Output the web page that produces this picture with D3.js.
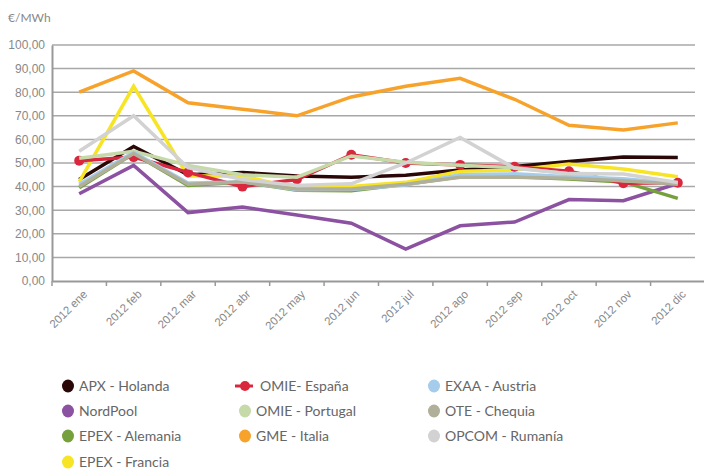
<!DOCTYPE html>
<html>
<head>
<meta charset="utf-8">
<script src="https://cdn.jsdelivr.net/npm/d3@7"></script>
<style>
  body { margin: 0; background: #fff; }
  svg { display: block; font-family: Lato, "Open Sans", sans-serif; }
</style>
</head>
<body>
<svg id="chart"></svg>
<script>
const months = ["2012 ene", "2012 feb", "2012 mar", "2012 abr", "2012 may", "2012 jun",
                "2012 jul", "2012 ago", "2012 sep", "2012 oct", "2012 nov", "2012 dic"];
const yTicks = [0, 10, 20, 30, 40, 50, 60, 70, 80, 90, 100];

const apxHolanda     = [43, 57, 45, 46, 44.5, 44, 44.8, 47, 48.5, 50.6, 52.5, 52.3];
const nordPool       = [37, 49, 29, 31.3, 28, 24.5, 13.5, 23.4, 25, 34.5, 34, 41.3];
const epexAlemania   = [39.5, 54, 40.5, 42, 38.5, 38.2, 41, 44.2, 44.2, 43.2, 42, 35];
const epexFrancia    = [42, 82.5, 44.5, 44.5, 39.2, 40, 41.8, 46.5, 47, 49.6, 47.5, 44.2];
const omieEspana     = [51, 52.5, 46, 40, 43, 53.5, 50, 49.2, 48.4, 46.5, 41.4, 41.6];
const omiePortugal   = [52, 55, 49, 45, 44, 53, 50.3, 49, 48, 45.5, 42.5, 41.5];
const gmeItalia      = [80, 89, 75.5, 72.8, 70, 78, 82.5, 85.9, 77, 66, 64, 67];
const exaaAustria    = [41, 54.5, 41.5, 42, 38.7, 38.8, 40.7, 45, 45.4, 44.2, 43.3, 41.3];
const oteChequia     = [40, 54, 41, 42, 39, 39, 41, 44, 44, 43.5, 42.5, 41];
const opcomRumania   = [55, 70, 48, 43, 40.5, 41.2, 50, 60.8, 47.8, 45.5, 45.3, 41.7];

const series = [
  { name: "APX - Holanda",    values: apxHolanda,   color: "#2a0808" },
  { name: "NordPool",         values: nordPool,     color: "#8c52a1" },
  { name: "EPEX - Alemania",  values: epexAlemania, color: "#76a03c" },
  { name: "EPEX - Francia",   values: epexFrancia,  color: "#f7e425" },
  { name: "OMIE- España",     values: omieEspana,   color: "#d9283e", marker: true },
  { name: "OMIE - Portugal",  values: omiePortugal, color: "#c6d9a9" },
  { name: "GME  - Italia",    values: gmeItalia,    color: "#f7a22b" },
  { name: "EXAA - Austria",   values: exaaAustria,  color: "#a6cceb" },
  { name: "OTE - Chequia",    values: oteChequia,   color: "#b0b09a" },
  { name: "OPCOM - Rumanía",  values: opcomRumania, color: "#d2d2d2" }
];

const width = 704, height = 473;
const svg = d3.select("#chart").attr("width", width).attr("height", height);

const x = d3.scaleBand().domain(months).range([52, 705]);
const y = d3.scaleLinear().domain([0, 100]).range([281, 45]);

// gridlines
svg.append("g")
  .selectAll("line")
  .data(yTicks.slice(1))
  .enter().append("line")
  .attr("x1", 52).attr("x2", 695)
  .attr("y1", d => y(d)).attr("y2", d => y(d))
  .attr("stroke", "#a8a8a8").attr("stroke-width", 1.5);

// y axis
const yAxis = svg.append("g")
  .attr("transform", "translate(52,0)")
  .call(d3.axisLeft(y).tickValues(yTicks).tickSize(0).tickPadding(7)
    .tickFormat(d => d3.format(".2f")(d).replace(".", ",")));
yAxis.select(".domain").attr("stroke", "#999").attr("stroke-width", 2);
yAxis.selectAll("text").attr("fill", "#888").style("font-size", "12px");

svg.append("text")
  .attr("x", 8).attr("y", 22)
  .attr("fill", "#888").style("font-size", "12px")
  .text("€/MWh");

// x axis
const xAxis = svg.append("g")
  .attr("transform", "translate(0,281)")
  .call(d3.axisBottom(x).tickSize(0).tickPadding(0));
xAxis.select(".domain").attr("stroke", "#999").attr("stroke-width", 2);
xAxis.selectAll("text")
  .attr("fill", "#888").style("font-size", "11.5px")
  .attr("text-anchor", "end")
  .attr("transform", "translate(6,11) rotate(-45)")
  .attr("dy", "0.35em").attr("y", 0);

// tick marks at category boundaries
svg.append("g")
  .selectAll("line")
  .data(months)
  .enter().append("line")
  .attr("x1", d => x(d)).attr("x2", d => x(d))
  .attr("y1", 281).attr("y2", 286)
  .attr("stroke", "#999").attr("stroke-width", 1.5);

// lines
const line = d3.line()
  .x((d, i) => x(months[i]) + x.bandwidth() / 2)
  .y(d => y(d));

series.forEach(s => {
  svg.append("path")
    .datum(s.values)
    .attr("fill", "none")
    .attr("stroke", s.color)
    .attr("stroke-width", 3.5)
    .attr("stroke-linejoin", "miter")
    .attr("d", line);
  if (s.marker) {
    svg.append("g")
      .selectAll("circle")
      .data(s.values)
      .enter().append("circle")
      .attr("cx", (d, i) => x(months[i]) + x.bandwidth() / 2)
      .attr("cy", d => y(d))
      .attr("r", 5)
      .attr("fill", s.color);
  }
});

// legend (column-major)
const legendCols = [68, 245, 434];
const legendRows = [386, 411, 436, 462];
const colSizes = [4, 3, 3];
let idx = 0;
colSizes.forEach((n, c) => {
  for (let r = 0; r < n; r++) {
    const s = series[idx++];
    const g = svg.append("g").attr("transform", `translate(${legendCols[c]},${legendRows[r]})`);
    if (s.marker) {
      g.append("line").attr("x1", -10).attr("x2", 8).attr("y1", 0).attr("y2", 0)
        .attr("stroke", s.color).attr("stroke-width", 3);
      g.append("circle").attr("r", 5).attr("fill", s.color);
    } else {
      g.append("ellipse").attr("rx", 6).attr("ry", 6.5).attr("fill", s.color);
    }
    g.append("text")
      .attr("x", s.marker ? 15 : 11).attr("y", 0).attr("dy", "0.36em")
      .attr("fill", "#666").style("font-size", "14px")
      .text(s.name);
  }
});
</script>
</body>
</html>
